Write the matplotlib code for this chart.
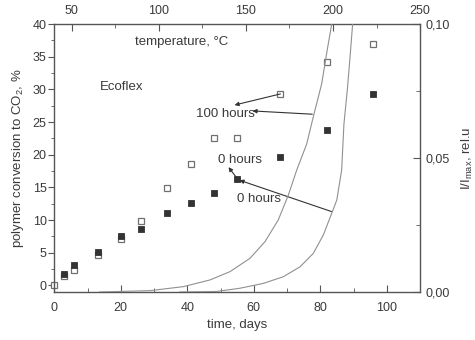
import numpy as np
import matplotlib.pyplot as plt

plt.rcParams['font.family'] = ['Liberation Sans', 'DejaVu Sans']
plt.rcParams['mathtext.fontset'] = 'custom'
plt.rcParams['mathtext.rm'] = 'Liberation Sans'
plt.rcParams['mathtext.it'] = 'Liberation Sans'

# conversion data (days, %)
days_open = [0, 3, 6, 13, 20, 26, 34, 41, 48, 55, 68, 82, 96]
conv_open = [0.0, 1.4, 2.3, 4.7, 7.1, 9.8, 14.9, 18.6, 22.6, 22.6, 29.3, 34.2, 37.0]
days_filled = [3, 6, 13, 20, 26, 34, 41, 48, 55, 68, 82, 96]
conv_filled = [1.8, 3.1, 5.1, 7.5, 8.7, 11.1, 12.6, 14.2, 16.3, 19.7, 23.8, 29.3]

# intensity curves (temperature, I/Imax)
temp_0h = [66, 95, 114.1, 129.4, 140.9, 152.4, 161.0, 168.6, 174.4, 179.2,
           184.9, 189.1, 193.5, 196.8, 199.3]
int_0h = [0.0, 0.0005, 0.0020, 0.0045, 0.0076, 0.0126, 0.0188, 0.0269, 0.0362, 0.0455,
          0.0552, 0.0664, 0.0776, 0.0907, 0.1]
temp_100h = [112, 133.3, 146.6, 160.0, 171.5, 181.1, 188.7, 194.5, 199.3, 202.2,
             205.0, 206.3, 208.2, 209.8, 211.3]
int_100h = [0.0, 0.0002, 0.0014, 0.0032, 0.0057, 0.0094, 0.0144, 0.0213, 0.0294, 0.0343,
            0.0455, 0.0627, 0.0751, 0.0876, 0.1]

txt = '#3a3a3a'
spine = '#555555'
fs = 9.5

fig = plt.figure(figsize=(4.75, 3.4), dpi=100)
pos = [0.1143, 0.1412, 0.7700, 0.7882]
ax = fig.add_axes(pos)
ax.set_xlim(0, 110)
ax.set_ylim(-1, 40)
ax.set_xticks(range(0, 101, 20))
ax.set_xticks(range(10, 111, 20), minor=True)
ax.set_yticks(range(0, 41, 5))
ax.set_yticks(np.arange(2.5, 40, 5), minor=True)
ax.tick_params(axis='x', which='both', direction='in', colors=spine, labelcolor=txt,
               labelsize=fs - 0.5, pad=7)
ax.tick_params(axis='x', which='major', length=5)
ax.tick_params(axis='x', which='minor', length=3)
ax.tick_params(axis='y', which='both', direction='out', colors=spine, labelcolor=txt,
               labelsize=fs - 0.5, pad=1.5, right=False)
ax.tick_params(axis='y', which='major', length=4)
ax.tick_params(axis='y', which='minor', length=2.5)
for s in ax.spines.values():
    s.set_color(spine)
    s.set_linewidth(1.0)
ax.set_xlabel('time, days', color=txt, fontsize=fs, labelpad=4)
ax.set_ylabel('polymer conversion to CO$_2$, %', color=txt, fontsize=fs, labelpad=5)

ax.plot(days_open, conv_open, 's', ms=4.2, mfc='white', mec='#707070', mew=0.9, clip_on=False)
ax.plot(days_filled, conv_filled, 's', ms=4.2, mfc='#333333', mec='#333333', mew=0.6)

# overlay axes: temperature on top, intensity on right
ax2 = fig.add_axes(pos, frameon=False)
ax2.plot(temp_0h, int_0h, color='#909090', lw=0.8)
ax2.plot(temp_100h, int_100h, color='#909090', lw=0.8)
ax2.set_xlim(40, 250)
ax2.set_ylim(0, 0.1)
ax2.xaxis.tick_top()
ax2.yaxis.tick_right()
ax2.yaxis.set_label_position('right')
ax2.set_xticks(range(50, 251, 50))
ax2.set_xticks(range(75, 250, 50), minor=True)
ax2.set_yticks([0, 0.05, 0.1])
ax2.set_yticks([0.025, 0.075], minor=True)
ax2.set_yticklabels(['0,00', '0,05', '0,10'])
ax2.tick_params(axis='both', which='both', direction='in', colors=spine, labelcolor=txt,
                labelsize=fs - 0.5)
ax2.tick_params(axis='x', which='both', pad=5)
ax2.tick_params(axis='y', which='both', pad=4)
ax2.tick_params(which='major', length=5)
ax2.tick_params(which='minor', length=3)
ax2.set_ylabel('I/I$_{max}$, rel.u', color=txt, fontsize=fs, labelpad=7)

# annotations in days / % coordinates
arr = dict(arrowstyle='-|>', color='#333333', lw=0.8, mutation_scale=6, shrinkA=0, shrinkB=0)
ax.annotate('', xy=(54.2, 27.6), xytext=(68, 29.3), arrowprops=arr)
ax.annotate('', xy=(59.6, 26.7), xytext=(77.6, 26.2), arrowprops=arr)
ax.annotate('', xy=(52.4, 18.1), xytext=(55.1, 16.3), arrowprops=arr)
ax.annotate('', xy=(55.7, 16.1), xytext=(83.4, 11.3), arrowprops=arr)

ax.text(51.5, 26.3, '100 hours', color=txt, fontsize=fs, ha='center', va='center')
ax.text(56.0, 19.2, '0 hours', color=txt, fontsize=fs, ha='center', va='center')
ax.text(61.7, 13.2, '0 hours', color=txt, fontsize=fs, ha='center', va='center')
ax.text(20.3, 30.4, 'Ecoflex', color=txt, fontsize=fs, ha='center', va='center')
ax.text(38.4, 37.2, 'temperature, °C', color=txt, fontsize=fs, ha='center', va='center')

fig.savefig('out.png', dpi=100)
